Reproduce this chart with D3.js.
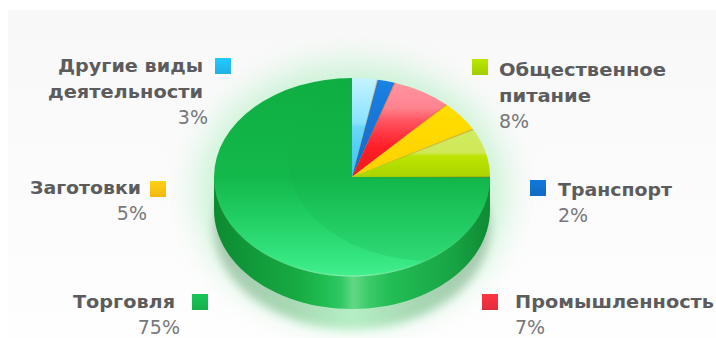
<!DOCTYPE html>
<html><head><meta charset="utf-8">
<script src="https://cdnjs.cloudflare.com/ajax/libs/d3/7.8.5/d3.min.js"></script>
<style>
html,body{margin:0;padding:0;background:#fff}
svg{display:block}
text{font-family:"DejaVu Sans",sans-serif}
.name{font-weight:700;font-size:18px;fill:#5c5c5e}
.pct{font-size:19px;fill:#77777a}
</style></head><body>
<svg id="c" width="716" height="338"></svg>
<script>
const categories=["Другие виды деятельности","Транспорт","Промышленность","Заготовки","Общественное питание","Торговля"];
const shares=[3,2,7,5,8,75];
const swatches=["#1fb8ee","#0f6fc8","#e8303c","#fbbf10","#a8d400","#17b550"];
const labelLines=[["Другие виды","деятельности"],["Транспорт"],["Промышленность"],["Заготовки"],["Общественное","питание"],["Торговля"]];

// vertical paint of each slice, in face coordinates from the rim top down to the centre
const slicePaint=[
 [[0,"#c4f3ff"],[.45,"#8ae2ff"],[.5,"#6ad6fb"],[1,"#3cc2f2"]],
 [[0,"#1a82e6"],[1,"#1268c8"]],
 [[0,"#ff98a2"],[.3,"#ff8490"],[.42,"#ff5864"],[.55,"#ff3a46"],[.7,"#ff1e28"],[1,"#f01818"]],
 [[0,"#ffe200"],[.5,"#ffda00"],[1,"#ffd000"]],
 [[0,"#d6ee6a"],[.75,"#cfe95a"],[.79,"#bde400"],[1,"#a9d400"]],
 [[0,"#0fae42"],[.5,"#13b84b"],[.72,"#22d066"],[.9,"#34e47e"],[1,"#42f08e"]]
];

// label placement: anchor x, first baseline, swatch x/y, percent x, line widths
const labelPlace=[
 {x:203,y:72,a:"end",sx:215,sy:58,px:208,w:[145,155]},
 {x:558,y:196,a:"start",sx:530,sy:180,px:558,w:[114]},
 {x:515,y:308,a:"start",sx:482,sy:294,px:515,w:[199]},
 {x:141,y:194,a:"end",sx:150,sy:181,px:147,w:[111]},
 {x:499,y:76,a:"start",sx:472,sy:59,px:499,w:[167,92]},
 {x:175,y:308,a:"end",sx:192,sy:294,px:180,w:[102]}
];

const W=716,H=338,cx=352,cy=177,rx=138,ry=99,depth=33;
const svg=d3.select("#c");
const defs=svg.append("defs");
const blur=(id,s)=>defs.append("filter").attr("id",id).attr("x","-40%").attr("y","-40%").attr("width","180%").attr("height","180%")
  .append("feGaussianBlur").attr("stdDeviation",s);
blur("glow",17);blur("shade",5);

const lin=(id,x1,y1,x2,y2,stops,units)=>{
  const g=defs.append("linearGradient").attr("id",id).attr("x1",x1).attr("y1",y1).attr("x2",x2).attr("y2",y2);
  if(units)g.attr("gradientUnits","userSpaceOnUse");
  stops.forEach(s=>g.append("stop").attr("offset",s[0]).attr("stop-color",s[1]).attr("stop-opacity",s[2]===undefined?1:s[2]));
};
lin("bg",0,0,0,1,[[0,"#f8f8f8"],[1,"#fefefe"]]);
lin("shadeFill",0,0,1,0,[[0,"#a8c8b0"],[.25,"#a6d6b2"],[.5,"#b4eec4"],[.75,"#a6d6b2"],[1,"#a8c8b0"]]);

// panel
svg.append("rect").attr("width",W).attr("height",H).attr("fill","#fff");
svg.append("rect").attr("x",8).attr("y",10).attr("width",W-8).attr("height",H-10).attr("fill","url(#bg)");

// green halo around the disc and the soft shade under it
svg.append("ellipse").attr("cx",cx).attr("cy",cy+16).attr("rx",rx+16).attr("ry",ry+30)
  .attr("fill","#a6ecb8").attr("opacity",.6).attr("filter","url(#glow)");
svg.append("ellipse").attr("cx",cx).attr("cy",cy+depth+17).attr("rx",rx).attr("ry",ry+3)
  .attr("fill","url(#shadeFill)").attr("filter","url(#shade)");

// rim
lin("rim",0,0,1,0,[[0,"#0d8a30"],[.1,"#109538"],[.3,"#17aa42"],[.4,"#1fbd52"],[.46,"#30c865"],[.505,"#62d884"],[.56,"#3bcb6a"],[.64,"#22bd55"],[.86,"#18a545"],[1,"#0f8a34"]]);
const rimPath=d3.path();
rimPath.moveTo(cx-rx,cy);
rimPath.lineTo(cx-rx,cy+depth);
d3.range(0,181,3).map(d=>d*Math.PI/180)
  .forEach(t=>rimPath.lineTo(cx-rx*Math.cos(t),cy+depth+ry*Math.sin(t)));
rimPath.lineTo(cx+rx,cy);rimPath.closePath();
svg.append("path").attr("d",rimPath.toString()).attr("fill","url(#rim)");

// top face slices, built from the shares
const pie=d3.pie().sort(null).value(d=>d).startAngle(0).endAngle(2*Math.PI);
const arc=d3.arc().innerRadius(0).outerRadius(rx);
const arcs=pie(shares);
const face=svg.append("g").attr("transform",`translate(${cx},${cy}) scale(1,${ry/rx})`);
arcs.forEach((a,i)=>{
  lin("s"+i,0,-rx,0,i===5?rx:0,slicePaint[i],true);
  face.append("path").attr("d",arc(a)).attr("fill",`url(#s${i})`);
});

// darker inner tone on the big slice, leaving a bright crescent along the front
defs.append("clipPath").attr("id","bigClip").append("path").attr("d",arc(arcs[5]))
  .attr("transform",`translate(${cx},${cy}) scale(1,${ry/rx})`);
lin("inner",0,0,0,1,[[0,"#0c9a3a",0],[.45,"#0e9c3c",.07],[1,"#12a544",.2]]);
svg.append("g").attr("clip-path","url(#bigClip)")
  .append("ellipse").attr("cx",432).attr("cy",160).attr("rx",144).attr("ry",101).attr("fill","url(#inner)");

// pale highlight on the front edge of the face
const edge=d3.path();
edge.moveTo(cx-rx,cy);
d3.range(0,181,3).map(d=>d*Math.PI/180)
  .forEach(t=>edge.lineTo(cx-rx*Math.cos(t),cy+ry*Math.sin(t)));
lin("edgeFill",0,0,1,0,[[0,"#5fe090",.1],[.5,"#9ff5bd",.85],[1,"#5fe090",.1]]);
svg.append("path").attr("d",edge.toString()).attr("fill","none").attr("stroke","url(#edgeFill)").attr("stroke-width",1.2);

// thin seams between the small slices
face.selectAll(".seam").data(arcs.slice(0,5)).join("path").attr("class","seam")
  .attr("d",d=>arc({startAngle:d.endAngle-0.007,endAngle:d.endAngle+0.007}))
  .attr("fill","#a8520a").attr("opacity",.3);

// legend
const g=svg.append("g");
labelPlace.forEach((p,i)=>{
  lin("sw"+i,0,0,0,1,[[0,d3.color(swatches[i]).brighter(.25)],[1,d3.color(swatches[i]).darker(.1)]]);
  g.append("rect").attr("x",p.sx).attr("y",p.sy).attr("width",16).attr("height",16).attr("fill",`url(#sw${i})`);
  labelLines[i].forEach((t,j)=>g.append("text").attr("class","name").attr("x",p.x).attr("y",p.y+j*26).attr("text-anchor",p.a)
    .attr("textLength",p.w[j]).attr("lengthAdjust","spacingAndGlyphs").text(t));
  g.append("text").attr("class","pct").attr("x",p.px).attr("y",p.y+labelLines[i].length*26).attr("text-anchor",p.a).text(shares[i]+"%");
});
</script>
</body></html>
